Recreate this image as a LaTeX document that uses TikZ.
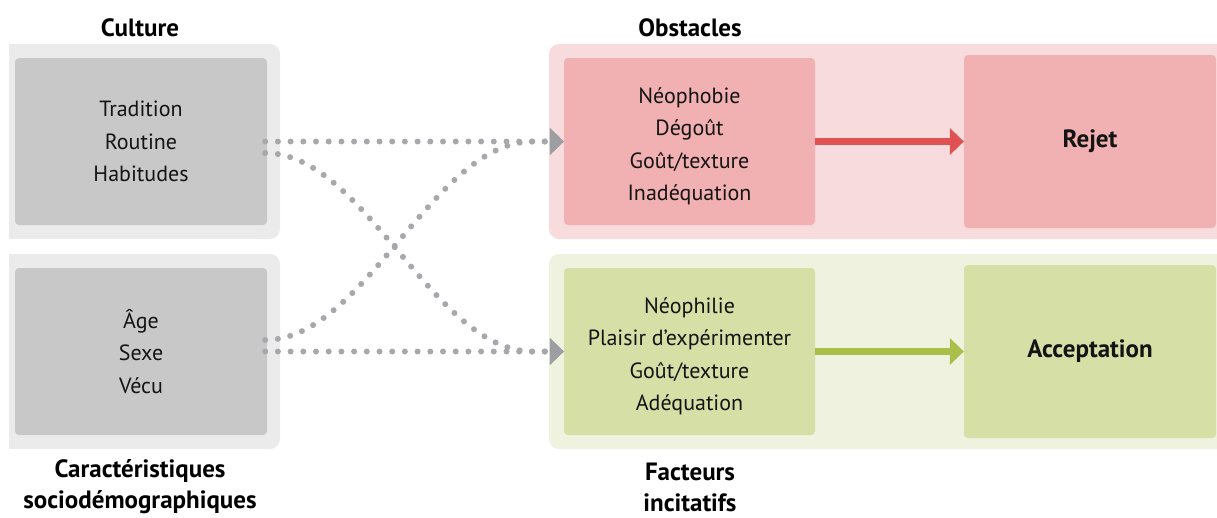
\documentclass[tikz,border=0pt]{standalone}
\usepackage{fontspec}
\setmainfont{PT Sans}
\usetikzlibrary{arrows.meta}
\definecolor{panneaugris}{HTML}{EBEBEB}
\definecolor{boitegris}{HTML}{C8C8C8}
\definecolor{panneaurouge}{HTML}{F8DBDC}
\definecolor{boiterouge}{HTML}{F1B0B1}
\definecolor{flecherouge}{HTML}{E05252}
\definecolor{panneauvert}{HTML}{EEF2DE}
\definecolor{boitevert}{HTML}{D5DFA6}
\definecolor{flechevert}{HTML}{A8C04A}
\definecolor{pointgris}{HTML}{A7A8AC}
\definecolor{flechegris}{HTML}{9D9EA2}

\begin{document}
\begin{tikzpicture}[x=1pt,y=-1pt,
    boite/.style={rounded corners=4pt, inner sep=0pt, minimum width=252pt, minimum height=167pt,
                  align=center, text=black!92, font=\fontsize{22}{32.5}\selectfont},
    liste/.style={align=center, text=black!92, font=\fontsize{22}{32.5}\selectfont},
    titre/.style={align=center, font=\bfseries\fontsize{25}{31}\selectfont},
    pointille/.style={draw=pointgris, line width=6pt, line cap=round, dash pattern=on 0pt off 12.7pt,
                      -{Triangle[length=14pt,width=27pt,line width=0pt,color=flechegris]}},
    epaisse/.style={line width=7pt, -{Triangle[length=14pt,width=27pt,line width=0pt]}}]
  \clip (0,0) rectangle (1217,517);

  % panneaux de fond
  \fill[panneaugris] (9,44) rectangle (270,239);
  \fill[panneaugris,rounded corners=10pt] (250,44) rectangle (280,239);
  \fill[panneaugris] (9,254) rectangle (270,449);
  \fill[panneaugris,rounded corners=10pt] (250,254) rectangle (280,449);
  \fill[panneaurouge,rounded corners=10pt] (549,44) rectangle (1240,239);
  \fill[panneauvert,rounded corners=10pt] (549,254) rectangle (1240,449);

  % boites
  \node[boite,fill=boitegris] (culture) at (141,141.5) {Tradition\\Routine\\Habitudes};
  \node[boite,fill=boitegris] (socio) at (141,351.5) {Âge\\Sexe\\Vécu};
  \node[boite,fill=boiterouge,minimum width=251pt] (obst) at (689.5,141.5) {};
  \node[liste] (lobst) at ([yshift=-5pt]obst.center) {Néophobie\\Dégoût\\Goût/texture\\Inadéquation};
  \node[boite,fill=boitevert,minimum width=251pt] (incit) at (689.5,351.5) {};
  \node[liste] (lincit) at ([yshift=-5pt]incit.center) {Néophilie\\Plaisir d’expérimenter\\Goût/texture\\Adéquation};
  \node[boite,fill=boiterouge,minimum height=173pt,font=\bfseries\fontsize{25}{30}\selectfont] (rejet)
       at (1090,141.5) {Rejet};
  \node[boite,fill=boitevert,minimum height=173pt,font=\bfseries\fontsize{25}{30}\selectfont] (accept)
       at (1090,351.5) {Acceptation};

  % titres
  \node[titre] (tculture) at (140,28) {Culture};
  \node[titre] (tobst) at (690,28) {Obstacles};
  \node[titre] (tsocio) at (140,487) {Caractéristiques\\sociodémographiques};
  \node[titre] (tincit) at (690,487) {Facteurs\\incitatifs};

  % liens en pointille
  \draw[pointille] ([xshift=-2pt]culture.east) -- (obst.west);
  \draw[pointille] ([xshift=-2pt]socio.east) -- (incit.west);
  \draw[pointille] ([xshift=-2pt,yshift=-11.5pt]culture.east) .. controls +(100,0) and +(-100,0)
       .. ([xshift=-31pt]incit.west) -- (incit.west);
  \draw[pointille] ([xshift=-2pt,yshift=11.5pt]socio.east) .. controls +(100,0) and +(-100,0)
       .. ([xshift=-31pt]obst.west) -- (obst.west);

  % fleches vers le resultat
  \draw[epaisse,flecherouge] (obst.east) -- (rejet.west);
  \draw[epaisse,flechevert] (incit.east) -- (accept.west);
\end{tikzpicture}
\end{document}
